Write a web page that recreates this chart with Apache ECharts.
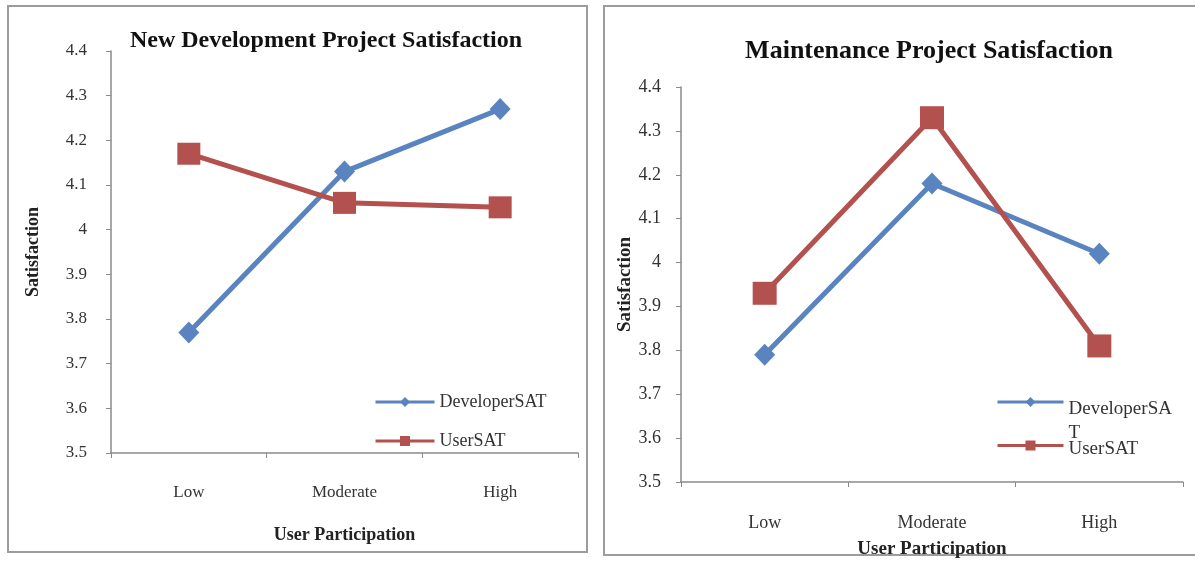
<!DOCTYPE html>
<html>
<head>
<meta charset="utf-8">
<script src="https://cdn.jsdelivr.net/npm/echarts@6/dist/echarts.min.js"></script>
<style>
  html, body { margin: 0; padding: 0; background: #fff; }
  #chart { width: 1195px; height: 561px; }
</style>
</head>
<body>
<div id="chart"></div>
<script>
// Satisfaction by level of user participation
const categories = ['Low', 'Moderate', 'High'];
const newDevDeveloperSAT = [3.77, 4.13, 4.27];
const newDevUserSAT = [4.17, 4.06, 4.05];
const maintDeveloperSAT = [3.79, 4.18, 4.02];
const maintUserSAT = [3.93, 4.33, 3.81];
const yMin = 3.5, yMax = 4.4, yStep = 0.1;

const FONT = '"Liberation Serif", "DejaVu Serif", serif';
const BLUE = '#5A84BF';
const RED = '#B3514E';
const AXIS = '#8a8a8a';

function xAxis(gridIndex, fs, labelMargin, nameFs, nameGap) {
  return {
    type: 'category', gridIndex, data: categories,
    name: 'User Participation', nameLocation: 'middle', nameGap,
    nameTextStyle: { fontFamily: FONT, fontWeight: 'bold', fontSize: nameFs, color: '#222' },
    axisLine: { lineStyle: { color: AXIS, width: 1.5 } },
    axisTick: { show: true, length: 5, lineStyle: { color: AXIS } },
    axisLabel: { margin: labelMargin, fontFamily: FONT, fontSize: fs, color: '#333' }
  };
}
function yAxis(gridIndex, fs, labelMargin, nameFs, nameGap) {
  return {
    type: 'value', gridIndex, min: yMin, max: yMax, interval: yStep,
    name: 'Satisfaction', nameLocation: 'middle', nameGap, nameRotate: 90,
    nameTextStyle: { fontFamily: FONT, fontWeight: 'bold', fontSize: nameFs, color: '#222' },
    splitLine: { show: false },
    axisLine: { show: true, lineStyle: { color: AXIS, width: 1.5 } },
    axisTick: { show: true, length: 5, lineStyle: { color: AXIS } },
    axisLabel: {
      margin: labelMargin, fontFamily: FONT, fontSize: fs, color: '#333',
      formatter: v => String(Math.round(v * 10) / 10)
    }
  };
}
function lineSeries(name, data, idx, color, symbol, size) {
  return {
    type: 'line', name, data, xAxisIndex: idx, yAxisIndex: idx,
    symbol, symbolSize: size,
    lineStyle: { color, width: 5 },
    itemStyle: { color },
    emphasis: { disabled: true },
    animation: false
  };
}
function legendStyle(fs) {
  return {
    fontFamily: FONT, fontSize: fs, color: '#333', lineHeight: 20,
    rich: {
      e: { fontSize: fs, lineHeight: 38 },
      s: { fontSize: fs, lineHeight: 8 },
      a: { fontFamily: FONT, fontSize: fs, color: '#333', lineHeight: 24 }
    }
  };
}

const chart = echarts.init(document.getElementById('chart'), null, { renderer: 'canvas' });
chart.setOption({
  backgroundColor: '#fff',
  animation: false,
  graphic: [
    { type: 'rect', shape: { x: 8, y: 6, width: 579, height: 546 },
      style: { fill: 'none', stroke: '#9c9c9c', lineWidth: 2 }, z: -1 },
    { type: 'rect', shape: { x: 604, y: 6, width: 610, height: 549 },
      style: { fill: 'none', stroke: '#9c9c9c', lineWidth: 2 }, z: -1 }
  ],
  title: [
    { text: 'New Development Project Satisfaction', left: 321, top: 24, textAlign: 'center',
      textStyle: { fontFamily: FONT, fontWeight: 'bold', fontSize: 24, color: '#111' } },
    { text: 'Maintenance Project Satisfaction', left: 924, top: 33, textAlign: 'center',
      textStyle: { fontFamily: FONT, fontWeight: 'bold', fontSize: 26, color: '#111' } }
  ],
  legend: [
    { data: ['DeveloperSAT', 'UserSAT'], orient: 'vertical', left: 374, top: 392, padding: 0,
      itemWidth: 59, itemHeight: 12.5, itemGap: 19, textStyle: legendStyle(18),
      lineStyle: { width: 3 }, selectedMode: false },
    { data: ['DeveloperSAT'], left: 996, top: 359, padding: 0,
      itemWidth: 66, itemHeight: 12.5, selectedMode: false,
      formatter: () => '{e| }\n{a|DeveloperSA}\n{a|T}',
      textStyle: legendStyle(19), lineStyle: { width: 3 } },
    { data: ['UserSAT'], left: 996, top: 424, padding: 0,
      itemWidth: 66, itemHeight: 12.5, selectedMode: false,
      formatter: name => '{s| }\n{a|' + name + '}',
      textStyle: legendStyle(19), lineStyle: { width: 3 } }
  ],
  grid: [
    { left: 111, top: 51, width: 467, height: 402, outerBoundsMode: 'none' },
    { left: 681, top: 87, width: 502, height: 395, outerBoundsMode: 'none' }
  ],
  xAxis: [xAxis(0, 17, 31, 18, 73), xAxis(1, 18, 32, 19, 58)],
  yAxis: [yAxis(0, 17, 24, 18, 69), yAxis(1, 18, 20, 19, 42)],
  series: [
    lineSeries('DeveloperSAT', newDevDeveloperSAT, 0, BLUE, 'diamond', [21, 22]),
    lineSeries('UserSAT', newDevUserSAT, 0, RED, 'rect', [23, 22]),
    lineSeries('DeveloperSAT', maintDeveloperSAT, 1, BLUE, 'diamond', [21, 22]),
    lineSeries('UserSAT', maintUserSAT, 1, RED, 'rect', [24, 23])
  ]
});
</script>
</body>
</html>
